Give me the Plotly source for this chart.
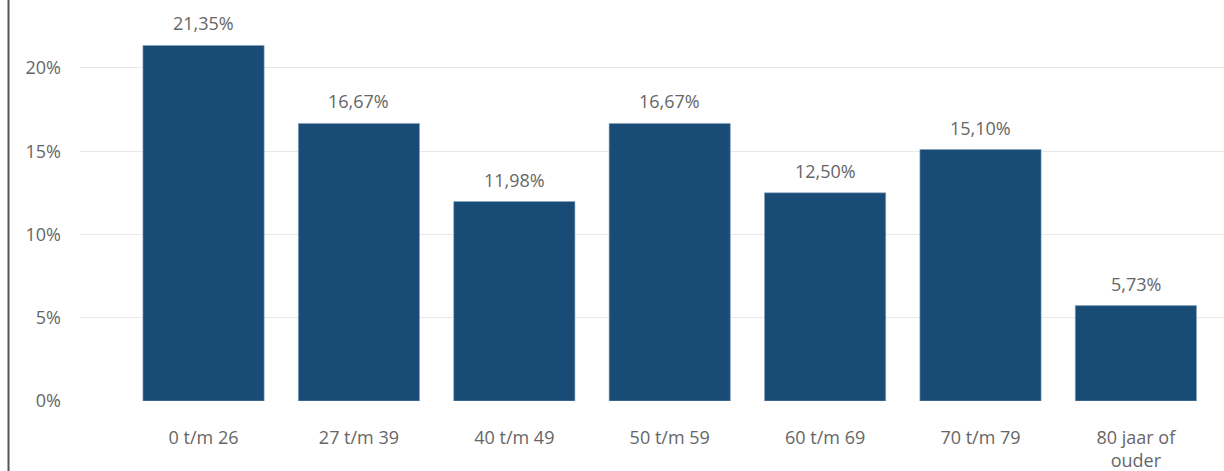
"""Leeftijdsverdeling — staafdiagram in Plotly."""

import plotly.graph_objects as go

categories = ["0 t/m 26", "27 t/m 39", "40 t/m 49", "50 t/m 59",
              "60 t/m 69", "70 t/m 79", "80 jaar of<br>ouder"]
values = [21.35, 16.67, 11.98, 16.67, 12.50, 15.10, 5.73]
y_ticks = [0, 5, 10, 15, 20]
y_tick_labels = ["0%", "5%", "10%", "15%", "20%"]

BAR = "#184b76"
TEXT = "#666666"
FONT = "Open Sans, DejaVu Sans, sans-serif"

fig = go.Figure(go.Bar(
    x=list(range(len(categories))), y=values,
    marker=dict(color=BAR, line=dict(color="#8aa5c0", width=0.6)),
    width=0.78, hoverinfo="skip",
))

for i, v in enumerate(values):
    fig.add_annotation(
        x=i, y=v, text=f"{v:.2f}%".replace(".", ","),
        showarrow=False, yanchor="bottom", yshift=8,
        font=dict(size=18, color=TEXT, family=FONT),
    )

# left border of the visual
fig.add_shape(type="line", xref="paper", yref="paper",
              x0=-0.0625, x1=-0.0625, y0=-0.2, y1=1.01,
              line=dict(color="#555555", width=2))

fig.update_layout(
    width=1224, height=471,
    margin=dict(l=80, r=0, t=0, b=70),
    plot_bgcolor="white", paper_bgcolor="white",
    showlegend=False,
    font=dict(family=FONT, size=18, color=TEXT),
    xaxis=dict(
        tickmode="array", tickvals=list(range(len(categories))),
        ticktext=categories, range=[-0.795, 6.567],
        showgrid=False, zeroline=False, showline=False,
        ticklabelstandoff=24, tickfont=dict(size=18, color=TEXT),
    ),
    yaxis=dict(
        tickmode="array", tickvals=y_ticks, ticktext=y_tick_labels,
        range=[0, 24.08], showgrid=True, gridcolor="#e8e8e8", gridwidth=1,
        zeroline=False, showline=False,
        ticklabelstandoff=18, tickfont=dict(size=18, color=TEXT),
    ),
)

fig.write_html("out.html", config={"displayModeBar": False},
               post_script="document.body.style.margin='0';")
